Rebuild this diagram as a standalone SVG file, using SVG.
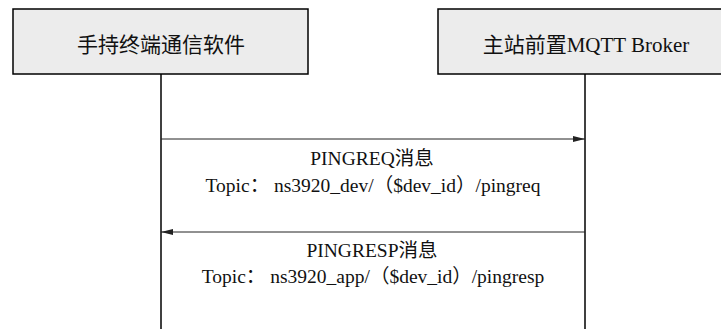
<svg xmlns="http://www.w3.org/2000/svg" width="721" height="329" viewBox="0 0 721 329">
<style>
.box{fill:#ececec;stroke:#000;stroke-width:1.5}
.life{stroke:#000;stroke-width:1.5;fill:none}
.msg{stroke:#222;stroke-width:1;fill:none}
text{font-family:"Liberation Serif","Noto Sans CJK SC",serif;fill:#111;text-anchor:middle}
.h{font-size:21px}
.m{font-size:19.5px}
</style>
<defs>
<marker id="ah" markerWidth="12" markerHeight="6" refX="12" refY="3" orient="auto" markerUnits="userSpaceOnUse">
<path d="M0,0 L12,3 L0,6 Z" fill="#222"/>
</marker>
</defs>
<g id="node-client">
<rect class="box" x="13" y="9" width="295" height="65"/>
<text class="h" x="161" y="52">手持终端通信软件</text>
<line class="life" x1="161" y1="74" x2="161" y2="329"/>
</g>
<g id="node-broker">
<rect class="box" x="438" y="9" width="290" height="65"/>
<text class="h" x="586" y="52">主站前置MQTT Broker</text>
<line class="life" x1="585" y1="74" x2="585" y2="329"/>
</g>
<g id="connectors">
<line class="msg" x1="161" y1="139" x2="585" y2="139" marker-end="url(#ah)"/>
<text class="m" x="372" y="165">PINGREQ消息</text>
<text class="m" x="373" y="192" xml:space="preserve">Topic： ns3920_dev/（$dev_id）/pingreq</text>
<line class="msg" x1="585" y1="232" x2="161" y2="232" marker-end="url(#ah)"/>
<text class="m" x="372" y="257">PINGRESP消息</text>
<text class="m" x="373" y="283" xml:space="preserve">Topic： ns3920_app/（$dev_id）/pingresp</text>
</g>
</svg>
